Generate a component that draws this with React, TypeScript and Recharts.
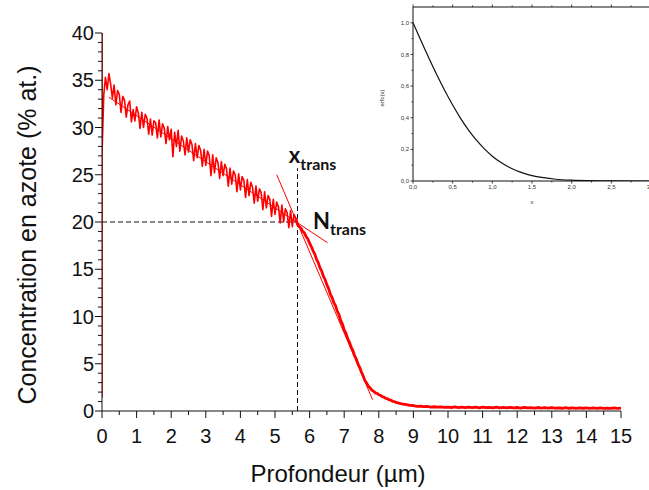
import { Line, LineChart, ReferenceDot, ReferenceLine, XAxis, YAxis } from 'recharts'

// profil SDL : pas de 0,05 µm jusqu'à 8,6 µm, puis 0,1 µm
const startDepth = [0, 0, 0]
const startConc = [1.4, 40, 27]

// 0,05 -> 5,60 µm
const surfaceConc = [
  33.4, 35.3, 34.0, 35.7, 34.6, 33.1, 34.5, 32.4, 33.9, 33.5,
  31.6, 33.3, 32.9, 31.1, 32.4, 32.8, 30.6, 31.9, 30.7, 32.2,
  31.5, 29.9, 31.6, 30.0, 31.4, 31.0, 29.3, 30.9, 29.2, 30.7,
  30.5, 28.9, 30.8, 29.0, 30.4, 29.9, 28.3, 30.1, 28.7, 29.8,
  26.9, 29.5, 28.0, 29.7, 27.5, 29.1, 28.6, 27.1, 28.9, 27.4,
  28.7, 28.2, 26.5, 28.3, 26.8, 28.1, 27.6, 25.9, 27.7, 26.0,
  27.5, 27.0, 24.9, 27.1, 25.2, 26.8, 26.3, 24.6, 26.4, 24.9,
  26.1, 25.6, 23.8, 25.7, 24.0, 25.4, 25.0, 23.2, 25.1, 23.4,
  24.8, 24.4, 22.6, 24.5, 22.8, 24.2, 23.7, 22.0, 23.8, 22.2,
  23.5, 23.1, 21.3, 23.2, 21.5, 22.8, 22.4, 20.6, 22.4, 20.8,
  22.1, 21.6, 19.9, 21.8, 20.0, 21.4, 21.0, 19.4, 21.2, 19.5,
  20.8, 20.4,
]

// 5,60 -> 8,60 µm
const declineConc = [
  20.4,
  19.75, 19.5, 19.35, 19.0, 18.85, 18.45, 18.2, 17.75, 17.4, 16.95,
  16.6, 16.05, 15.7, 15.15, 14.8, 14.25, 13.9, 13.35, 12.95, 12.35,
  12.0, 11.45, 11.15, 10.55, 10.2, 9.55, 9.2, 8.55, 8.25, 7.65,
  7.3, 6.75, 6.4, 5.85, 5.5, 4.95, 4.6, 4.1, 3.7, 3.2,
  2.95, 2.6, 2.45, 2.2, 2.1, 1.92, 1.86, 1.72, 1.66, 1.52,
  1.47, 1.34, 1.3, 1.18, 1.14, 1.03, 1.0, 0.9, 0.88, 0.8,
]

// 8,7 -> 15,0 µm
const tailConc = [
  0.74, 0.68, 0.6, 0.58, 0.5, 0.52, 0.46, 0.48, 0.42, 0.45,
  0.4, 0.44, 0.38, 0.42, 0.37, 0.43, 0.36, 0.41, 0.35, 0.42,
  0.36, 0.4, 0.34, 0.41, 0.35, 0.39, 0.33, 0.4, 0.34, 0.38,
  0.32, 0.39, 0.33, 0.37, 0.31, 0.38, 0.32, 0.36, 0.3, 0.37,
  0.31, 0.35, 0.3, 0.36, 0.3, 0.34, 0.29, 0.35, 0.29, 0.33,
  0.28, 0.34, 0.29, 0.32, 0.28, 0.33, 0.27, 0.32, 0.28, 0.31,
  0.27, 0.32, 0.28, 0.3,
]

const xTrans = 5.65
const nTrans = 20
const xTransTop = 25.7
const steepTangent = [{ x: 5.05, y: 25.0 }, { x: 7.82, y: 1.2 }]
const flatTangent = [{ x: 0.2, y: 33.2 }, { x: 6.52, y: 17.8 }]

const xTicks = [
  0, 0.5, 1, 1.5, 2, 2.5, 3, 3.5, 4, 4.5, 5, 5.5, 6, 6.5, 7, 7.5, 8,
  8.5, 9, 9.5, 10, 10.5, 11, 11.5, 12, 12.5, 13, 13.5, 14, 14.5, 15,
]
const yTicks = [
  0, 1, 2, 3, 4, 5, 6, 7, 8, 9, 10, 11, 12, 13, 14, 15, 16, 17, 18, 19, 20,
  21, 22, 23, 24, 25, 26, 27, 28, 29, 30, 31, 32, 33, 34, 35, 36, 37, 38, 39, 40,
]

// encart erfc(x)
const erfcX = [0, 0.1, 0.2, 0.3, 0.4, 0.5, 0.6, 0.7, 0.8, 0.9, 1.0, 1.1, 1.2, 1.3, 1.4, 1.5, 1.6, 1.8, 2.0, 2.2, 2.5, 3.0]
const erfcY = [1.0, 0.888, 0.777, 0.671, 0.572, 0.48, 0.396, 0.322, 0.258, 0.203, 0.157, 0.12, 0.09, 0.066, 0.048, 0.034, 0.024, 0.011, 0.005, 0.002, 0.0004, 0]
const insetXTicks = [0, 0.25, 0.5, 0.75, 1, 1.25, 1.5, 1.75, 2, 2.25, 2.5, 2.75, 3]
const insetYTicks = [0, 0.1, 0.2, 0.3, 0.4, 0.5, 0.6, 0.7, 0.8, 0.9, 1.0]

const profile = [
  ...startDepth.map((d, i) => ({ depth: d, conc: startConc[i] })),
  ...surfaceConc.map((c, i) => ({ depth: Math.round((i + 1) * 5) / 100, conc: c })),
  ...declineConc.map((c, i) => ({ depth: Math.round(560 + i * 5) / 100, decline: c })),
  ...tailConc.map((c, i) => ({ depth: Math.round(87 + i) / 10, decline: c })),
]
const erfcData = erfcX.map((x, i) => ({ x, y: erfcY[i] }))

const FONT = '"Liberation Sans", Arial, sans-serif'
const LABEL_FONT = 'Lato, "Open Sans", sans-serif'
const INK = '#111'
const RED = '#ff0000'

const isMultiple = (v: number, step: number) =>
  Math.abs(v / step - Math.round(v / step)) < 1e-6

function MainXTick({ x, y, payload }: any) {
  const major = isMultiple(payload.value, 1)
  return (
    <g>
      <line x1={x} y1={y} x2={x} y2={y + (major ? 7 : 4)} stroke={INK} />
      {major && (
        <text x={x} y={y + 32} textAnchor="middle" fontSize={20} fontFamily={FONT} fill={INK}>
          {payload.value}
        </text>
      )}
    </g>
  )
}

function MainYTick({ x, y, payload }: any) {
  const major = isMultiple(payload.value, 5)
  return (
    <g>
      <line x1={x} y1={y} x2={x - (major ? 7 : 4)} y2={y} stroke={INK} />
      {major && (
        <text x={x - 8} y={y} dy="0.36em" textAnchor="end" fontSize={20} fontFamily={FONT} fill={INK}>
          {payload.value}
        </text>
      )}
    </g>
  )
}

function InsetXTick({ x, y, payload }: any) {
  const major = isMultiple(payload.value, 0.5)
  return (
    <g>
      <line x1={x} y1={y} x2={x} y2={y + (major ? 2.5 : 1.5)} stroke={INK} strokeWidth={0.8} />
      {major && (
        <text x={x} y={y + 7.5} textAnchor="middle" fontSize={6} fontFamily={FONT} fill="#333">
          {payload.value.toFixed(1).replace('.', ',')}
        </text>
      )}
    </g>
  )
}

function InsetTopTick({ x, y, payload }: any) {
  const major = isMultiple(payload.value, 0.5)
  return <line x1={x} y1={y} x2={x} y2={y - (major ? 2.5 : 1.5)} stroke={INK} strokeWidth={0.8} />
}

function InsetYTick({ x, y, payload }: any) {
  const major = isMultiple(payload.value, 0.2)
  return (
    <g>
      <line x1={x} y1={y} x2={x - (major ? 2.5 : 1.5)} y2={y} stroke={INK} strokeWidth={0.8} />
      {major && (
        <text x={x - 4} y={y} dy="0.35em" textAnchor="end" fontSize={6} fontFamily={FONT} fill="#333">
          {payload.value.toFixed(1).replace('.', ',')}
        </text>
      )}
    </g>
  )
}

function transLabel(main: string) {
  return (p: any) => (
    <text x={p.cx} y={p.cy} fontFamily={LABEL_FONT} fontWeight={700} fontSize={22} fill={INK}>
      {main}
      <tspan fontSize={16} dy={6.5}>trans</tspan>
    </text>
  )
}

export default function App() {
  return (
    <div
      style={{
        position: 'absolute',
        left: 0,
        top: 0,
        width: 649,
        height: 490,
        overflow: 'hidden',
        background: '#fff',
      }}
    >
      <LineChart
        width={649}
        height={490}
        data={profile}
        margin={{ top: 33, right: 28, bottom: 39, left: 42 }}
      >
        <XAxis
          dataKey="depth"
          type="number"
          domain={[0, 15]}
          ticks={xTicks}
          interval={0}
          tick={<MainXTick />}
          tickLine={false}
          tickSize={0}
          tickMargin={0}
          height={40}
          axisLine={{ stroke: INK }}
          allowDataOverflow
          label={(props: any) => {
            const vb = props.viewBox
            return (
              <text x={vb.x + 236} y={vb.y + 71} textAnchor="middle" fontSize={24} fontFamily={FONT} fill={INK}>
                Profondeur (µm)
              </text>
            )
          }}
        />
        <YAxis
          type="number"
          domain={[0, 40]}
          ticks={yTicks}
          interval={0}
          tick={<MainYTick />}
          tickLine={false}
          tickSize={0}
          tickMargin={0}
          width={60}
          axisLine={{ stroke: INK }}
          allowDataOverflow
          label={(props: any) => {
            const vb = props.viewBox
            const cx = vb.x - 6
            const cy = vb.y + vb.height / 2 + 13
            return (
              <text
                x={cx}
                y={cy}
                transform={`rotate(-90 ${cx} ${cy})`}
                textAnchor="middle"
                fontSize={25}
                fontFamily={FONT}
                fill={INK}
              >
                Concentration en azote (% at.)
              </text>
            )
          }}
        />
        <ReferenceLine
          segment={[{ x: 0, y: nTrans }, { x: xTrans, y: nTrans }]}
          stroke={INK}
          strokeDasharray="5 3"
        />
        <ReferenceLine
          segment={[{ x: xTrans, y: 0 }, { x: xTrans, y: xTransTop }]}
          stroke={INK}
          strokeDasharray="5 3"
        />
        <Line
          dataKey="conc"
          type="linear"
          stroke={RED}
          strokeWidth={1.6}
          strokeLinejoin="round"
          dot={false}
          isAnimationActive={false}
        />
        <Line
          dataKey="decline"
          type="linear"
          stroke={RED}
          strokeWidth={2.8}
          strokeLinejoin="round"
          dot={false}
          isAnimationActive={false}
        />
        <ReferenceLine segment={steepTangent} stroke={RED} strokeWidth={1} />
        <ReferenceLine segment={flatTangent} stroke={RED} strokeWidth={1} />
        <ReferenceDot x={5.4} y={26.2} r={0} shape={transLabel('x')} />
        <ReferenceDot x={6.1} y={19.26} r={0} shape={transLabel('N')} />
      </LineChart>

      <div style={{ position: 'absolute', left: 360, top: 0 }}>
        <LineChart
          width={300}
          height={215}
          data={erfcData}
          margin={{ top: 6, right: 9, bottom: 14, left: 28 }}
        >
          <XAxis
            dataKey="x"
            type="number"
            domain={[0, 3]}
            ticks={insetXTicks}
            interval={0}
            tick={<InsetXTick />}
            tickLine={false}
            tickSize={0}
            tickMargin={0}
            height={20}
            axisLine={{ stroke: INK }}
            label={(props: any) => {
              const vb = props.viewBox
              return (
                <text x={vb.x + vb.width / 2} y={vb.y + 23} textAnchor="middle" fontSize={6} fontFamily={FONT} fill="#333">
                  x
                </text>
              )
            }}
          />
          <XAxis
            xAxisId="top"
            orientation="top"
            dataKey="x"
            type="number"
            domain={[0, 3]}
            ticks={insetXTicks}
            interval={0}
            tick={<InsetTopTick />}
            tickLine={false}
            tickSize={0}
            tickMargin={0}
            height={1}
            axisLine={{ stroke: INK }}
          />
          <YAxis
            type="number"
            domain={[0, 1.1]}
            ticks={insetYTicks}
            interval={0}
            tick={<InsetYTick />}
            tickLine={false}
            tickSize={0}
            tickMargin={0}
            width={25}
            axisLine={{ stroke: INK }}
            allowDataOverflow
            label={(props: any) => {
              const vb = props.viewBox
              const cx = vb.x - 4
              const cy = 98
              return (
                <text
                  x={cx}
                  y={cy}
                  transform={`rotate(-90 ${cx} ${cy})`}
                  textAnchor="middle"
                  fontSize={6}
                  fontFamily={FONT}
                  fill="#333"
                >
                  erfc(x)
                </text>
              )
            }}
          />
          <Line
            dataKey="y"
            type="monotone"
            stroke={INK}
            strokeWidth={1.2}
            dot={false}
            isAnimationActive={false}
          />
        </LineChart>
      </div>
    </div>
  )
}
